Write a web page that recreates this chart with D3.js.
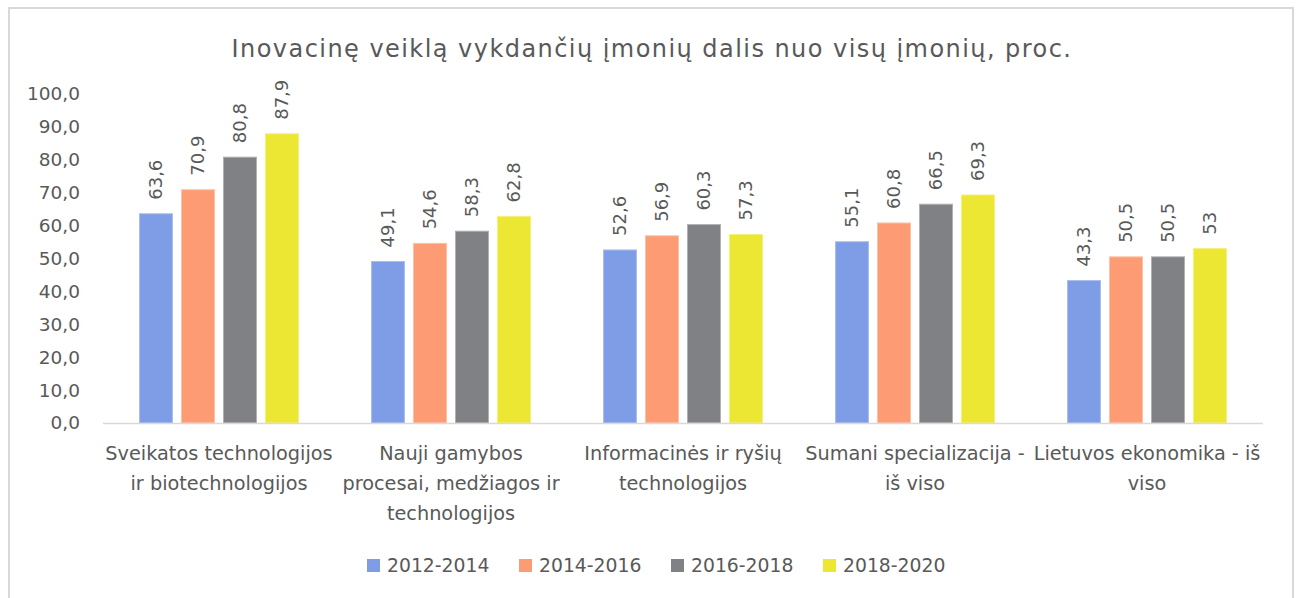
<!DOCTYPE html>
<html>
<head>
<meta charset="utf-8">
<script src="https://cdn.jsdelivr.net/npm/d3@7"></script>
<style>
  body { margin: 0; background: #fff; }
  text { font-family: "DejaVu Sans", Verdana, sans-serif; fill: #595959; }
</style>
</head>
<body>
<div id="content"></div>
<script>
var width = 1300;
var height = 598;

var categories = [
  ["Sveikatos technologijos", "ir biotechnologijos"],
  ["Nauji gamybos", "procesai, medžiagos ir", "technologijos"],
  ["Informacinės ir ryšių", "technologijos"],
  ["Sumani specializacija -", "iš viso"],
  ["Lietuvos ekonomika - iš", "viso"]
];
var periods = ["2012-2014", "2014-2016", "2016-2018", "2018-2020"];
var s2012 = [63.6, 49.1, 52.6, 55.1, 43.3];
var s2014 = [70.9, 54.6, 56.9, 60.8, 50.5];
var s2016 = [80.8, 58.3, 60.3, 66.5, 50.5];
var s2018 = [87.9, 62.8, 57.3, 69.3, 53];
var valueLabels2018 = ["87,9", "62,8", "57,3", "69,3", "53"];
var yTicks = [0, 10, 20, 30, 40, 50, 60, 70, 80, 90, 100];
var colors = ["#7f9de6", "#fd9c74", "#808184", "#ece733"];
var strokes = ["#a9bff0", "#ffc0a5", "#b0b0b3", "#f4f07a"];

var series = [s2012, s2014, s2016, s2018];

var svg = d3.select('#content').append('svg').attr('width', width).attr('height', height)

// chart frame
svg.append('rect')
  .attr('x', 9).attr('y', 8).attr('width', 1284).attr('height', 620)
  .style('fill', '#fff').style('stroke', '#d9d9d9').style('stroke-width', 2)

var x0 = d3.scaleBand().domain(d3.range(categories.length)).range([103, 1263])
  .paddingInner(64 / 232).paddingOuter(32 / 232)
var x1 = d3.scaleBand().domain(d3.range(periods.length)).range([0, x0.bandwidth()])
  .paddingInner(9 / 42).paddingOuter(4.5 / 42)
var y = d3.scaleLinear().domain([0, 100]).range([423, 94])

// title
svg.append('text')
  .attr('x', 652).attr('y', 57)
  .style('text-anchor', 'middle')
  .style('font-size', '24px')
  .style('letter-spacing', '1.45px')
  .text('Inovacinę veiklą vykdančių įmonių dalis nuo visų įmonių, proc.')

// y axis labels
var yAxis = d3.axisLeft(y).tickValues(yTicks).tickSize(0).tickPadding(0)
  .tickFormat(function(d){ return d3.format('.1f')(d).replace('.', ','); })
var yg = svg.append('g').attr('transform', 'translate(80,0)').call(yAxis)
yg.select('.domain').remove()
yg.selectAll('text').style('font-size', '18.5px').style('fill', '#595959')
  .style('font-family', '"DejaVu Sans", Verdana, sans-serif')

// bars
var groups = svg.selectAll('.grp')
  .data(categories).enter().append('g')
  .attr('class', 'grp')
  .attr('transform', function(d, i){ return 'translate(' + x0(i) + ',0)'; })

groups.each(function(cat, ci){
  var g = d3.select(this);
  var vals = series.map(function(s, si){ return { si: si, v: s[ci] }; });
  g.selectAll('rect').data(vals).enter().append('rect')
    .attr('x', function(d){ return x1(d.si); })
    .attr('y', function(d){ return y(d.v); })
    .attr('width', x1.bandwidth())
    .attr('height', function(d){ return y(0) - y(d.v); })
    .style('fill', function(d){ return colors[d.si]; })
    .style('stroke', function(d){ return strokes[d.si]; })
    .style('stroke-width', 1)

  g.selectAll('text.val').data(vals).enter().append('text')
    .attr('class', 'val')
    .attr('transform', function(d){
      return 'translate(' + (x1(d.si) + x1.bandwidth() / 2) + ',' + (y(d.v) - 14) + ') rotate(-90)';
    })
    .attr('dy', '0.35em')
    .style('font-size', '18px')
    .text(function(d){
      if (d.si === 3) return valueLabels2018[ci];
      return d3.format('.1f')(d.v).replace('.', ',');
    })
})

// baseline
svg.append('line')
  .attr('x1', 103).attr('x2', 1263).attr('y1', y(0) + 0.5).attr('y2', y(0) + 0.5)
  .style('stroke', '#d9d9d9').style('stroke-width', 1.5)

// category labels
var catText = svg.selectAll('.cat')
  .data(categories).enter().append('text')
  .attr('class', 'cat')
  .attr('x', function(d, i){ return x0(i) + x0.bandwidth() / 2; })
  .attr('y', 460)
  .style('text-anchor', 'middle')
  .style('font-size', '19.3px')

catText.selectAll('tspan').data(function(d){ return d; }).enter().append('tspan')
  .attr('x', function(){ return d3.select(this.parentNode).attr('x'); })
  .attr('dy', function(d, i){ return i === 0 ? 0 : 30; })
  .text(function(d){ return d; })

// legend
var legend = svg.selectAll('.leg')
  .data(periods).enter().append('g')
  .attr('class', 'leg')
  .attr('transform', function(d, i){ return 'translate(' + (367 + i * 152) + ',559)'; })

legend.append('rect')
  .attr('width', 13).attr('height', 13)
  .style('fill', function(d, i){ return colors[i]; })

legend.append('text')
  .attr('x', 20).attr('y', 13)
  .style('font-size', '18.8px')
  .text(function(d){ return d; })
</script>
</body>
</html>
